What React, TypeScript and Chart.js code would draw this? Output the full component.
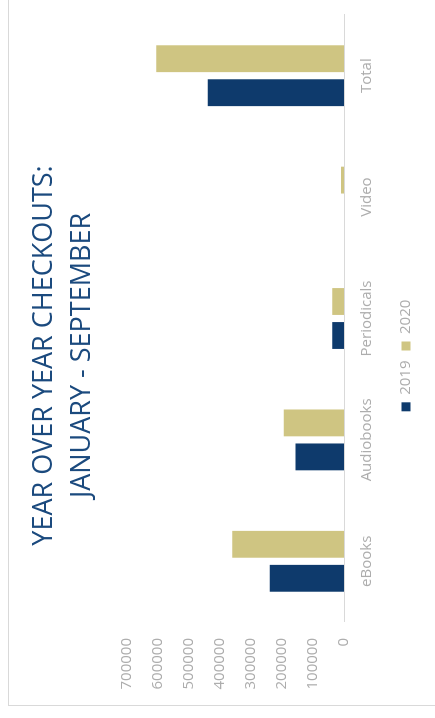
import React, { useEffect, useRef } from "react";
import { Chart, registerables } from "chart.js";

Chart.register(...registerables);

const categories = ["eBooks", "Audiobooks", "Periodicals", "Video", "Total"];
const values2019 = [239000, 156000, 38000, 0, 439000];
const values2020 = [360000, 194000, 38000, 10000, 605000];
const seriesLabels = ["2019", "2020"];
const titleLines = ["YEAR OVER YEAR CHECKOUTS:", "JANUARY - SEPTEMBER"];
const valueTicks = [0, 100000, 200000, 300000, 400000, 500000, 600000, 700000];

const W = 718;
const H = 435;

export default function App() {
  const ref = useRef<HTMLCanvasElement | null>(null);

  useEffect(() => {
    if (!ref.current) return;
    const gray = "#adadad";
    const font = "'Open Sans', 'Noto Sans', sans-serif";
    const chart = new Chart(ref.current, {
      type: "bar",
      data: {
        labels: categories,
        datasets: [
          {
            label: seriesLabels[0],
            data: values2019,
            backgroundColor: "#0e3a6c",
            borderColor: "#0e3a6c",
            borderWidth: 0,
            barPercentage: 0.79,
            categoryPercentage: 0.56,
          },
          {
            label: seriesLabels[1],
            data: values2020,
            backgroundColor: "#cfc582",
            borderColor: "#cfc582",
            borderWidth: 0,
            barPercentage: 0.79,
            categoryPercentage: 0.56,
          },
        ],
      },
      options: {
        animation: false,
        responsive: false,
        maintainAspectRatio: false,
        devicePixelRatio: 1,
        layout: { padding: { left: 22, right: 15, top: 0, bottom: 11.5 } },
        plugins: {
          title: {
            display: true,
            text: titleLines,
            color: "#1b4a7e",
            font: { family: font, size: 27, weight: "normal", lineHeight: 1.42 },
            padding: { top: 25, bottom: 25 },
          },
          legend: {
            display: true,
            position: "bottom",
            labels: {
              color: gray,
              boxWidth: 9,
              boxHeight: 9,
              padding: 10,
              font: { family: font, size: 15 },
            },
          },
          tooltip: { enabled: false },
        },
        scales: {
          x: {
            grid: { display: false, drawTicks: false },
            border: { display: true, color: "#d9d9d9", width: 1 },
            ticks: {
              color: gray,
              padding: 14,
              font: { family: font, size: 15 },
              maxRotation: 0,
            },
            afterFit: (s: any) => {
              s.height = 44.5;
            },
          },
          y: {
            min: 0,
            max: 700000,
            grid: { display: false, drawTicks: false },
            border: { display: false },
            afterBuildTicks: (s: any) => {
              s.ticks = valueTicks.map((v) => ({ value: v }));
            },
            ticks: {
              color: gray,
              padding: 16,
              font: { family: font, size: 15 },
              callback: (v: any) => String(v),
            },
            afterFit: (s: any) => {
              s.width = 74;
            },
          },
        },
      },
    });
    return () => chart.destroy();
  }, []);

  return (
    <div
      style={{
        position: "fixed",
        left: 0,
        top: 0,
        width: W,
        height: H,
        overflow: "hidden",
        background: "#ffffff",
        transformOrigin: "0 0",
        transform: `translateY(${W}px) rotate(-90deg)`,
      }}
    >
      <div
        style={{
          position: "absolute",
          left: 12,
          top: 8,
          width: 800,
          height: 600,
          border: "1px solid #d9d9d9",
          boxSizing: "border-box",
        }}
      />
      <canvas
        ref={ref}
        width={W}
        height={H}
        style={{ position: "absolute", left: 0, top: 0, width: W, height: H }}
      />
    </div>
  );
}
